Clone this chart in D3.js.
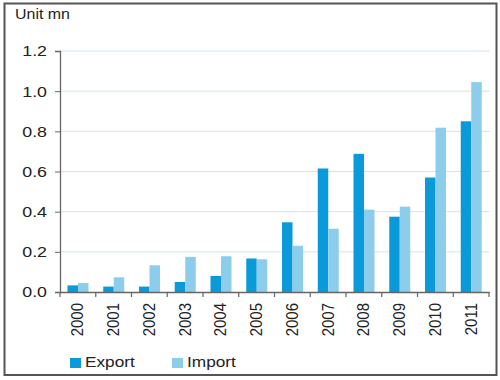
<!DOCTYPE html>
<html><head><meta charset="utf-8">
<script src="https://cdn.jsdelivr.net/npm/d3@7"></script>
<style>body{margin:0;background:#fff}svg{display:block}text{font-family:"Liberation Sans",Arial,sans-serif;fill:#222}</style>
</head><body><svg id="c" width="500" height="380"></svg>
<script>
const years = ["2000","2001","2002","2003","2004","2005","2006","2007","2008","2009","2010","2011"];
const exportVals = [0.033,0.027,0.027,0.05,0.08,0.167,0.347,0.615,0.688,0.375,0.57,0.85];
const importVals = [0.045,0.073,0.133,0.175,0.178,0.163,0.23,0.315,0.41,0.425,0.818,1.045];
const seriesNames = ["Export","Import"];
const seriesColors = ["#0a9ad9","#8dcdec"];
const yTicks = [0,0.2,0.4,0.6,0.8,1.0,1.2];

const svg = d3.select("#c");
svg.append("rect").attr("x",4.5).attr("y",3.5).attr("width",492).attr("height",371.5)
  .attr("fill","#fff").attr("stroke","#555").attr("stroke-width",2);

const x0 = d3.scaleBand().domain(years).range([60,489]).padding(0);
const x1 = d3.scaleBand().domain(seriesNames).range([7.5,28.5]).padding(0);
const y = d3.scaleLinear().domain([0,1.2]).range([292,51]);

// gridlines
svg.append("g").selectAll("line").data(yTicks.filter(d=>d>0)).join("line")
  .attr("x1",60).attr("x2",490).attr("y1",d=>y(d)).attr("y2",d=>y(d))
  .attr("stroke","#cfe6ef").attr("stroke-width",1);

// bars
const data = years.map((yr,i)=>({yr, vals:[exportVals[i],importVals[i]]}));
const g = svg.append("g").selectAll("g").data(data).join("g")
  .attr("transform",d=>`translate(${x0(d.yr)},0)`);
g.selectAll("rect").data(d=>d.vals.map((v,j)=>({s:seriesNames[j],v,j}))).join("rect")
  .attr("x",d=>x1(d.s)).attr("width",x1.bandwidth())
  .attr("y",d=>y(d.v)).attr("height",d=>y(0)-y(d.v))
  .attr("fill",d=>seriesColors[d.j]);

// y axis
const yAxis = svg.append("g").attr("transform","translate(60,0)")
  .call(d3.axisLeft(y).tickValues(yTicks).tickFormat(d3.format(".1f")).tickSize(5).tickPadding(6));
yAxis.select(".domain").attr("stroke","#666").attr("stroke-width",1.3);
yAxis.selectAll(".tick line").attr("stroke","#666");
yAxis.selectAll(".tick text").attr("font-size",15.5).attr("fill","#222")
  .attr("font-family","Liberation Sans, Arial, sans-serif")
  .attr("transform","scale(1.15,1)").attr("x",-11.3);

// x axis
const xAxis = svg.append("g").attr("transform","translate(0,292)")
  .call(d3.axisBottom(x0).tickSize(0).tickFormat(""));
xAxis.select(".domain").attr("stroke","#666").attr("stroke-width",1.3);
xAxis.selectAll(".tick").remove();
svg.append("g").selectAll("line").data(years.concat(["end"])).join("line")
  .attr("x1",(d,i)=>i<years.length?x0(d):x0.range()[1]).attr("x2",(d,i)=>i<years.length?x0(d):x0.range()[1])
  .attr("y1",292).attr("y2",297).attr("stroke","#666").attr("stroke-width",1.2);
svg.append("g").selectAll("text").data(years).join("text")
  .attr("transform",d=>`translate(${x0(d)+x0.bandwidth()/2+5.5},303) rotate(-90) scale(1,1.15)`)
  .attr("text-anchor","end").attr("font-size",15).text(d=>d);

// unit label
svg.append("text").attr("transform","translate(15,19) scale(1.1,1)").attr("font-size",14.5).text("Unit mn");

// legend
const leg = svg.append("g").selectAll("g").data(seriesNames).join("g")
  .attr("transform",(d,i)=>`translate(${[70,172][i]},0)`);
leg.append("rect").attr("x",0).attr("y",358).attr("width",11).attr("height",10).attr("fill",(d,i)=>seriesColors[i]);
leg.append("text").attr("transform","translate(15,367) scale(1.15,1)").attr("font-size",15).text(d=>d);
</script></body></html>
